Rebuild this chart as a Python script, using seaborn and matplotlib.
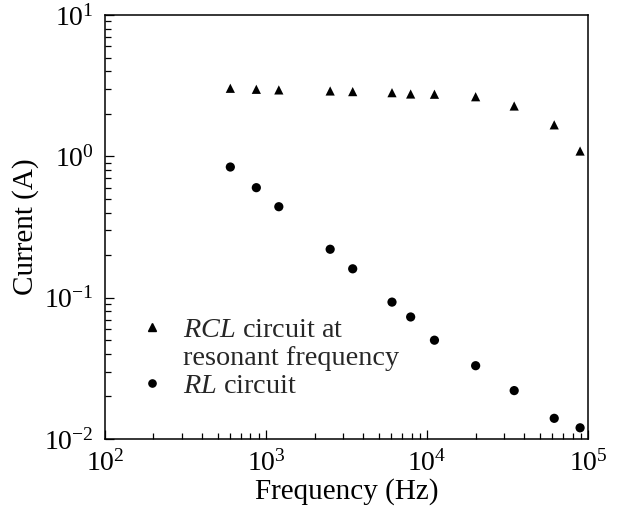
import matplotlib
matplotlib.use("Agg")
import matplotlib.pyplot as plt
from matplotlib.lines import Line2D
import seaborn as sns
import pandas as pd

# values (log-log)
freq_hz = [600, 870, 1200, 2500, 3450, 6050, 7900, 11100, 20000, 34700, 61500, 89000]
rcl_current = [3.03, 2.98, 2.95, 2.90, 2.87, 2.82, 2.76, 2.75, 2.64, 2.27, 1.67, 1.09]
rl_current = [0.84, 0.60, 0.44, 0.22, 0.16, 0.093, 0.073, 0.050, 0.033, 0.022, 0.014, 0.012]
circuits = ['RCL', 'RL']
legend_labels = ['$RCL$ circuit at', 'resonant frequency', '$RL$ circuit']


def plot_graph(df, figsize):
    sns.set_theme(style="ticks")
    plt.rcParams['font.family'] = ['Liberation Serif', 'DejaVu Serif']
    plt.rcParams['mathtext.fontset'] = 'custom'
    plt.rcParams['mathtext.rm'] = 'Liberation Serif'
    plt.rcParams['mathtext.it'] = 'Liberation Serif:italic'

    fig = plt.figure(figsize=figsize, dpi=100)
    ax = fig.add_axes([0.1696, 0.1476, 0.7807, 0.8233])

    sns.scatterplot(ax=ax, data=df, x='freq', y='current', style='circuit',
                    markers={'RCL': '^', 'RL': 'o'}, color='black', s=44,
                    edgecolor='none', legend=False)
    ax.set_xscale('log')
    ax.set_yscale('log')
    ax.set_xlim(1e2, 1e5)
    ax.set_ylim(1e-2, 1e1)

    for side in ['left', 'bottom', 'top', 'right']:
        ax.spines[side].set_color('black')
        ax.spines[side].set_linewidth(1.1)
    ax.tick_params(which='both', direction='in', top=False, right=False,
                   color='black', width=0.9, labelsize=20, labelcolor='black')
    ax.tick_params(which='major', length=6.5, pad=8)
    ax.tick_params(which='minor', length=4.3)

    ax.set_xlabel('Frequency (Hz)', fontsize=21, color='black', labelpad=1)
    ax.set_ylabel('Current (A)', fontsize=21, color='black', labelpad=4)

    handles = [Line2D([], [], marker='^', ls='none', color='black', markersize=5.2),
               Line2D([], [], ls='none'),
               Line2D([], [], marker='o', ls='none', color='black', markersize=5.2)]
    ax.legend(handles, legend_labels, loc='lower left', bbox_to_anchor=(0.068, 0.095),
              frameon=False, fontsize=20.3, handlelength=1.0, handletextpad=0.6,
              borderpad=0, borderaxespad=0, labelspacing=0.08)

    plt.savefig('out.png', dpi=100)


if __name__ == "__main__":
    df_list = list()
    for name, vals in zip(circuits, [rcl_current, rl_current]):
        df_1 = pd.DataFrame({'freq': freq_hz, 'current': vals})
        df_1['circuit'] = [name] * len(df_1)
        df_list.append(df_1)
    df_plot = pd.concat(df_list, axis=0)
    plot_graph(df_plot, (6.19, 5.15))
